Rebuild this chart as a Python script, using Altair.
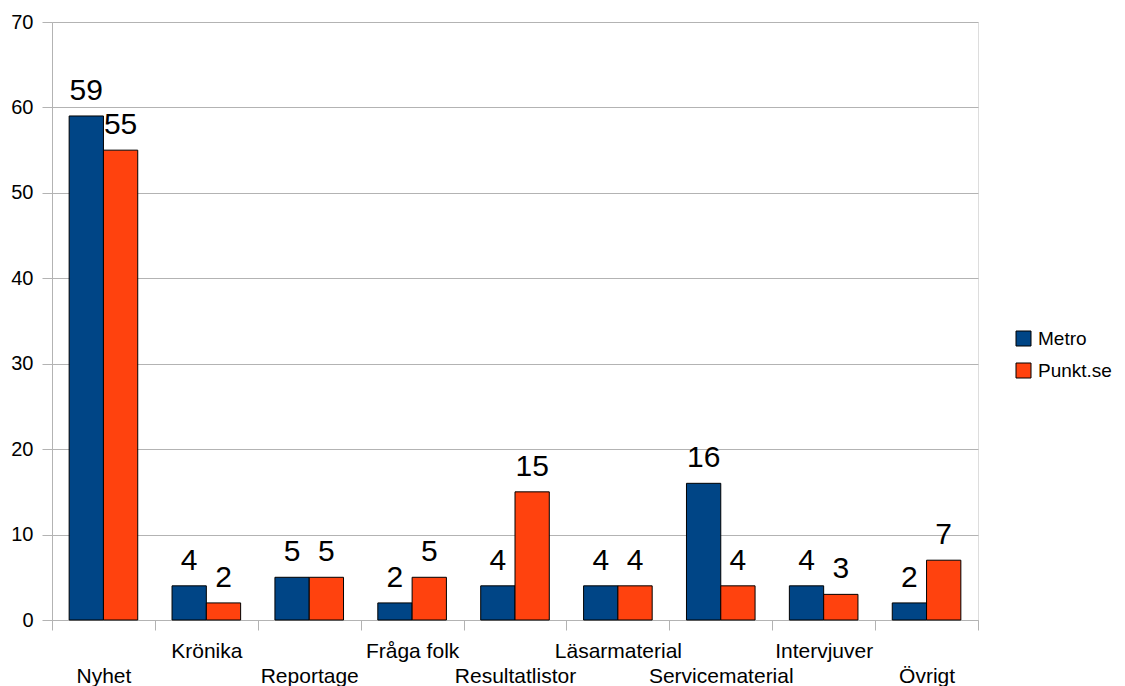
import altair as alt
import pandas as pd

categories = ["Nyhet", "Krönika", "Reportage", "Fråga folk", "Resultatlistor",
              "Läsarmaterial", "Servicematerial", "Intervjuver", "Övrigt"]
metro = [59, 4, 5, 2, 4, 4, 16, 4, 2]
punkt = [55, 2, 5, 5, 15, 4, 4, 3, 7]
series = ["Metro", "Punkt.se"]
colors = ["#004586", "#ff420e"]
upper_row = ["Krönika", "Fråga folk", "Läsarmaterial", "Intervjuver"]

rows = []
for c, m, p in zip(categories, metro, punkt):
    rows.append({"kategori": c, "serie": series[0], "antal": m})
    rows.append({"kategori": c, "serie": series[1], "antal": p})
df = pd.DataFrame(rows)

FONT = "Liberation Sans"
upper_js = "[" + ",".join("'" + u + "'" for u in upper_row) + "]"

x_enc = alt.X("kategori:N", sort=categories, title=None,
              scale=alt.Scale(paddingInner=0, paddingOuter=0),
              axis=alt.Axis(labelAngle=0, tickBand="extent", tickSize=10,
                            tickColor="#b3b3b3", domainColor="#b3b3b3",
                            labelFont=FONT, labelFontSize=21, labelColor="#000000",
                            labelPadding=10, labelLineHeight=25,
                            labelOverlap=False, labelBound=False,
                            labelExpr=f"indexof({upper_js}, datum.value) >= 0 ? datum.value : ['', datum.value]",
                            grid=False))
xoff = alt.XOffset("serie:N", sort=series,
                   scale=alt.Scale(paddingInner=0, paddingOuter=0.5))
y_enc = alt.Y("antal:Q", title=None,
              scale=alt.Scale(domain=[0, 70]),
              axis=alt.Axis(values=[0, 10, 20, 30, 40, 50, 60, 70], tickSize=10,
                            tickColor="#b3b3b3", domainColor="#b3b3b3",
                            gridColor="#b3b3b3", grid=True,
                            labelFont=FONT, labelFontSize=20, labelColor="#000000",
                            labelPadding=9))

bars = alt.Chart(df).mark_bar(stroke="#000000", strokeWidth=1).encode(
    x=x_enc, xOffset=xoff, y=y_enc,
    color=alt.Color("serie:N", sort=series, title=None,
                    scale=alt.Scale(domain=series, range=colors),
                    legend=alt.Legend(orient="none", legendX=962, legendY=307,
                                      padding=0, symbolType="square", symbolSize=225,
                                      symbolStrokeColor="#000000", symbolStrokeWidth=1,
                                      labelFont=FONT, labelFontSize=19, labelColor="#000000",
                                      labelLimit=200, rowPadding=12, labelOffset=5)),
)

labels = alt.Chart(df).mark_text(font=FONT, fontSize=30, color="#000000",
                                 baseline="alphabetic", dy=-16).encode(
    x=alt.X("kategori:N", sort=categories), xOffset=xoff,
    y="antal:Q", text="antal:Q",
)

chart = alt.layer(bars, labels).properties(
    width=926, height=598,
    autosize=alt.AutoSizeParams(type="none"),
    padding={"left": 44, "top": 14, "right": 139, "bottom": 66},
).configure_view(stroke="#b3b3b3", strokeWidth=1).configure(background="#ffffff")

chart.save("out.html", embed_options={"renderer": "svg", "actions": False})
